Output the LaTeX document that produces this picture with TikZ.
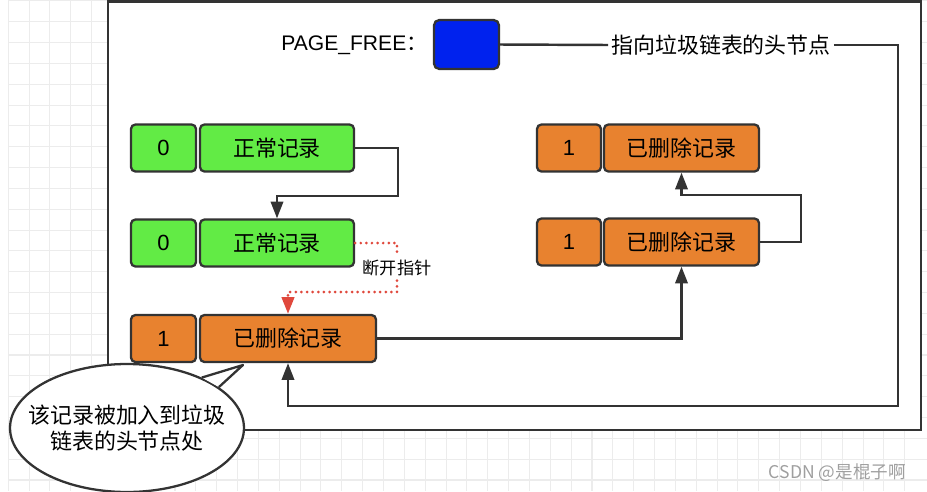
\documentclass[tikz,border=0pt]{standalone}
\usepackage{fontspec}
\setmainfont{Liberation Sans}
\newfontfamily\cjk{Noto Sans CJK SC}
\usetikzlibrary{arrows.meta,shapes.geometric}
\definecolor{linec}{HTML}{333333}
\definecolor{okgreen}{HTML}{62EB45}
\definecolor{delorange}{HTML}{E8822F}
\definecolor{freeblue}{HTML}{0022EE}
\definecolor{cutred}{HTML}{E0483C}
\definecolor{gridc}{HTML}{ECECEC}
\tikzset{
  gridline/.style={draw=gridc, line width=0.6pt},
  frame/.style={draw=linec, fill=white, line width=1.4pt},
  cell/.style={draw=linec, line width=1.3pt, rounded corners=2.5pt, minimum height=0.94cm, inner sep=0pt, font=\fontsize{12.5}{15}\selectfont},
  flag/.style={cell, minimum width=1.3cm},
  rec/.style={cell, font=\cjk\fontsize{12.5}{15}\selectfont},
  ok/.style={fill=okgreen},
  del/.style={fill=delorange},
  freebox/.style={cell, fill=freeblue, minimum width=1.3cm, minimum height=0.98cm, rounded corners=3pt},
  line/.style={draw=linec, line width=1.4pt},
  link/.style={line, -{Triangle[length=9.5pt,width=7pt]}},
  cutline/.style={draw=cutred, line width=1.7pt, dash pattern=on 0pt off 3.2pt, line cap=round},
  bubble/.style={ellipse, draw=linec, fill=white, line width=1.3pt, minimum width=4.68cm, minimum height=2.56cm, inner xsep=-12pt, inner ysep=0pt, align=center, font=\cjk\fontsize{12.5}{14.7}\selectfont}
}
\begin{document}
\begin{tikzpicture}[x=0.02cm,y=-0.02cm]
    \useasboundingbox (0,0) rectangle (927,491);
    % background grid
    \foreach \i in {0,...,43} \draw[gridline] (8.2+20.85*\i,0) -- ++(0,491);
    \foreach \j in {0,...,23} \draw[gridline] (8,0.9+20.83*\j) -- ++(919,0);
    \draw[frame] (108,1.5) rectangle (921,430);

    \node[anchor=west, inner sep=0pt, font=\fontsize{12}{14}\selectfont] (freelbl) at (281,45) {PAGE\_FREE{\cjk ：}};
    \node[freebox] (free) at (466.5,44.5) {};
    \node[inner sep=1.5pt, font=\cjk\fontsize{12.5}{15}\selectfont] (hint) at (721,45) {指向垃圾链表的头节点};

    \node[flag,ok] (okflag1) at (163.5,148) {0};
    \node[rec,ok,minimum width=3.08cm] (ok1) at (277,148) {正常记录};
    \node[flag,ok] (okflag2) at (163.5,243) {0};
    \node[rec,ok,minimum width=3.08cm] (ok2) at (277,243) {正常记录};
    \node[flag,del] (delflag0) at (163.5,338.5) {1};
    \node[rec,del,minimum width=3.52cm] (del0) at (288,338.5) {已删除记录};
    \node[flag,del,minimum width=1.28cm] (delflag1) at (569,148) {1};
    \node[rec,del,minimum width=3.1cm] (del1) at (681.5,148) {已删除记录};
    \node[flag,del,minimum width=1.28cm] (delflag2) at (569,242) {1};
    \node[rec,del,minimum width=3.1cm] (del2) at (681.5,242) {已删除记录};

    \node[inner sep=2.5pt, fill=white, font=\cjk\fontsize{9.8}{12}\selectfont] (cut) at (397,268) {断开指针};

    \draw[line] (free.east) -- (hint.west);
    \draw[link] (hint.east) -| (898,406) -| (del0.south);
    \draw[link] (ok1.east) -| (398,196) -| (ok2.north);
    \draw[cutline] (ok2.east) -| (cut.north);
    \draw[cutline,-{Triangle[length=9.5pt,width=7pt]}] (cut.south) -- (397,292) -| (del0.north);
    \draw[link] (del0.east) -| (del2.south);
    \draw[link] (del2.east) -| (801,195) -| (del1.south);

    % speech bubble
    \node[bubble] (note) at (127,428) {该记录被加入到垃圾\\链表的头节点处};
    \coordinate (tip) at (243,365);
    \fill[white] (note.34) -- (tip) -- (note.24) -- cycle;
    \draw[line, line width=1.3pt, line join=round] (note.34) -- (tip) -- (note.24);

    \node[anchor=east, text=gray!75, font=\cjk\fontsize{10}{12}\selectfont] (mark) at (912,473) {CSDN @是棍子啊};
\end{tikzpicture}
\end{document}
